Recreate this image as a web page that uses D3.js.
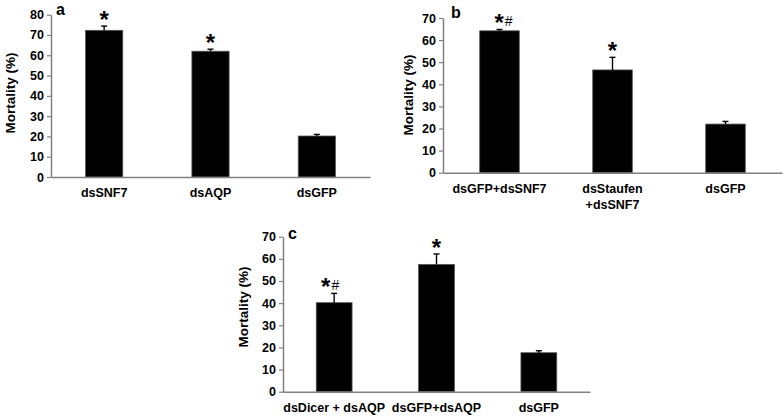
<!DOCTYPE html>
<html>
<head>
<meta charset="utf-8">
<script src="https://cdn.jsdelivr.net/npm/d3@7"></script>
<style>
  body { margin: 0; background: #fff; }
  svg { display: block; }
  text { font-family: "Liberation Sans", Arial, sans-serif; }
</style>
</head>
<body>
<div id="chart"></div>
<script>
const width = 784;
const height = 416;

// panel a
const catsA = [["dsSNF7"], ["dsAQP"], ["dsGFP"]];
const valsA = [72.3, 62.0, 20.2];
const errA = [2.1, 1.0, 0.8];
const marksA = ["*", "*", ""];
const ticksA = [0, 10, 20, 30, 40, 50, 60, 70, 80];

// panel b
const catsB = [["dsGFP+dsSNF7"], ["dsStaufen", "+dsSNF7"], ["dsGFP"]];
const valsB = [64.2, 46.5, 22.0];
const errB = [0.6, 5.7, 1.2];
const marksB = ["*#", "*", ""];
const ticksB = [0, 10, 20, 30, 40, 50, 60, 70];

// panel c
const catsC = [["dsDicer + dsAQP"], ["dsGFP+dsAQP"], ["dsGFP"]];
const valsC = [40.2, 57.5, 17.6];
const errC = [4.2, 4.7, 0.9];
const marksC = ["*#", "*", ""];
const ticksC = [0, 10, 20, 30, 40, 50, 60, 70];

const svg = d3.select("#chart")
    .append("svg")
    .attr("width", width)
    .attr("height", height);

function drawPanel(p) {
    const rows = p.cats.map((c, i) => ({
        key: i,
        lines: c,
        value: p.vals[i],
        err: p.errs[i],
        mark: p.marks[i]
    }));

    const x = d3.scaleBand()
        .domain(rows.map((d) => d.key))
        .range([p.x0, p.x1])
        .paddingInner(0.65)
        .paddingOuter(0.325);

    const y = d3.scaleLinear()
        .domain([0, d3.max(p.ticks)])
        .range([p.yBottom, p.yTop]);

    const g = svg.append("g");

    // bars
    g.selectAll(".bar")
        .data(rows)
        .join("rect")
        .attr("class", "bar")
        .attr("x", (d) => x(d.key))
        .attr("y", (d) => y(d.value))
        .attr("width", x.bandwidth())
        .attr("height", (d) => y(0) - y(d.value))
        .attr("fill", "#000")
        .attr("stroke", "#555")
        .attr("stroke-width", 0.8);

    // error bars (upper only)
    const cx = (d) => x(d.key) + x.bandwidth() / 2;
    g.selectAll(".err")
        .data(rows)
        .join("line")
        .attr("class", "err")
        .attr("x1", cx)
        .attr("x2", cx)
        .attr("y1", (d) => y(d.value))
        .attr("y2", (d) => y(d.value + d.err))
        .attr("stroke", "#000")
        .attr("stroke-width", 1.4);
    g.selectAll(".cap")
        .data(rows)
        .join("line")
        .attr("class", "cap")
        .attr("x1", (d) => cx(d) - 3)
        .attr("x2", (d) => cx(d) + 3)
        .attr("y1", (d) => y(d.value + d.err))
        .attr("y2", (d) => y(d.value + d.err))
        .attr("stroke", "#000")
        .attr("stroke-width", 1.4);

    // significance marks
    const marks = g.selectAll(".mark")
        .data(rows.filter((d) => d.mark))
        .join("text")
        .attr("class", "mark")
        .attr("x", (d) => cx(d) + (d.mark.length > 1 ? p.markShift : 0))
        .attr("y", (d) => y(d.value + d.err) + 2)
        .attr("text-anchor", "middle");
    marks.append("tspan")
        .attr("font-size", 24)
        .attr("font-weight", "bold")
        .text("*");
    marks.filter((d) => d.mark.includes("#"))
        .append("tspan")
        .attr("font-size", 14)
        .attr("dx", 1)
        .attr("dy", -5)
        .text("#");

    // y axis
    const yAxis = g.append("g")
        .attr("transform", `translate(${p.x0},0)`)
        .call(d3.axisLeft(y).tickValues(p.ticks).tickSize(4).tickPadding(3).tickSizeOuter(0));
    yAxis.select(".domain").attr("stroke", "#808080").attr("stroke-width", 1.5);
    yAxis.selectAll(".tick line").attr("stroke", "#808080").attr("stroke-width", 1.2);
    yAxis.selectAll(".tick text")
        .attr("font-size", 12.5)
        .attr("font-weight", "bold")
        .attr("fill", "#000")
        .style("font-family", '"Liberation Sans", Arial, sans-serif');

    // x axis line
    const xAxis = g.append("g")
        .attr("transform", `translate(0,${p.yBottom})`)
        .call(d3.axisBottom(x).tickSize(0).tickFormat(""));
    xAxis.select(".domain").attr("stroke", "#808080").attr("stroke-width", 1.5);

    // category labels
    const labels = g.selectAll(".cat")
        .data(rows)
        .join("text")
        .attr("class", "cat")
        .attr("text-anchor", "middle")
        .attr("font-size", 12.5)
        .attr("font-weight", "bold")
        .attr("y", p.yBottom + 20);
    labels.selectAll("tspan")
        .data((d) => d.lines.map((t) => ({ t: t, c: cx(d) })))
        .join("tspan")
        .attr("x", (d) => d.c)
        .attr("dy", (d, i) => (i === 0 ? 0 : 16))
        .text((d) => d.t);

    // y title
    g.append("text")
        .attr("transform", `translate(${p.titleX},${p.titleY}) rotate(-90)`)
        .attr("text-anchor", "middle")
        .attr("font-size", 13.5)
        .attr("font-weight", "bold")
        .text("Mortality (%)");

    // panel letter
    g.append("text")
        .attr("x", p.letterX)
        .attr("y", p.letterY)
        .attr("font-size", 16)
        .attr("font-weight", "bold")
        .text(p.letter);
}

drawPanel({
    cats: catsA, vals: valsA, errs: errA, marks: marksA, ticks: ticksA,
    x0: 51, x1: 370, yBottom: 177, yTop: 14.7,
    titleX: 15, titleY: 93, letter: "a", letterX: 56, letterY: 15, markShift: 0
});

drawPanel({
    cats: catsB, vals: valsB, errs: errB, marks: marksB, ticks: ticksB,
    x0: 443, x1: 782, yBottom: 172.7, yTop: 18,
    titleX: 413, titleY: 95, letter: "b", letterX: 451, letterY: 18, markShift: 4
});

drawPanel({
    cats: catsC, vals: valsC, errs: errC, marks: marksC, ticks: ticksC,
    x0: 283, x1: 590, yBottom: 391.7, yTop: 236.7,
    titleX: 248, titleY: 307, letter: "c", letterX: 288, letterY: 239, markShift: -4
});
</script>
</body>
</html>
